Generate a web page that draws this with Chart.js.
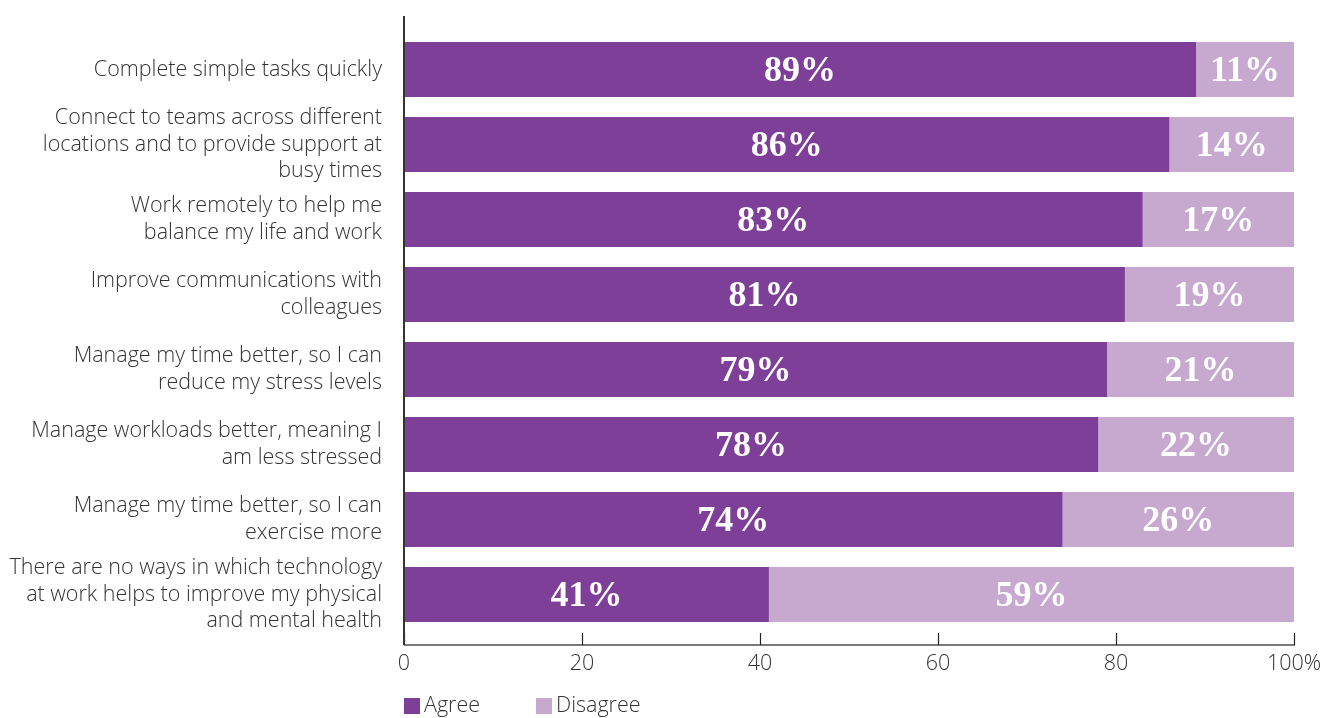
<!DOCTYPE html>
<html>
<head>
<meta charset="utf-8">
<script src="https://cdn.jsdelivr.net/npm/chart.js@4/dist/chart.umd.min.js"></script>
<style>
  html, body { margin: 0; padding: 0; background: #ffffff; }
  #wrap { width: 1335px; height: 718px; position: relative; }
</style>
</head>
<body>
<div id="wrap"><canvas id="chart"></canvas></div>
<script>
// Survey statements (one bar each), top to bottom
const categories = [
  "Complete simple tasks quickly",
  ["Connect to teams across different", "locations and to provide support at", "busy times"],
  ["Work remotely to help me", "balance my life and work"],
  ["Improve communications with", "colleagues"],
  ["Manage my time better, so I can", "reduce my stress levels"],
  ["Manage workloads better, meaning I", "am less stressed"],
  ["Manage my time better, so I can", "exercise more"],
  ["There are no ways in which technology", "at work helps to improve my physical", "and mental health"]
];
const agree    = [89, 86, 83, 81, 79, 78, 74, 41];
const disagree = [11, 14, 17, 19, 21, 22, 26, 59];
const seriesNames = ["Agree", "Disagree"];
const xTicks = [0, 20, 40, 60, 80, 100];

const AGREE_COLOR = "#7d3f97";
const DISAGREE_COLOR = "#c7a8cf";
const TEXT_COLOR = "#333333";
const LABEL_FONT = "'Open Sans', 'Noto Sans', sans-serif";

// Percentages written inside each bar segment
const barValueLabels = {
  id: "barValueLabels",
  afterDatasetsDraw(chart) {
    const ctx = chart.ctx;
    ctx.save();
    ctx.fillStyle = "#ffffff";
    ctx.font = "bold 36px 'Liberation Serif', 'DejaVu Serif', serif";
    ctx.textAlign = "center";
    ctx.textBaseline = "middle";
    chart.data.datasets.forEach((ds, i) => {
      const meta = chart.getDatasetMeta(i);
      meta.data.forEach((bar, j) => {
        const p = bar.getProps(["x", "y", "base"], true);
        const cx = (p.x + p.base) / 2;
        ctx.fillText(ds.data[j] + "%", cx, p.y + 2);
      });
    });
    ctx.restore();
  }
};

// Axis lines with inward tick marks, plus a legend aligned to the plot's left edge
const axesAndLegend = {
  id: "axesAndLegend",
  afterDraw(chart) {
    const ctx = chart.ctx;
    const area = chart.chartArea;
    const xs = chart.scales.x;
    const axisY = area.bottom + 13;
    ctx.save();
    // x axis
    ctx.strokeStyle = "#7a7a7a";
    ctx.lineWidth = 2;
    ctx.beginPath();
    ctx.moveTo(area.left, axisY);
    ctx.lineTo(xs.getPixelForValue(100) + 1, axisY);
    ctx.stroke();
    // tick marks pointing up
    ctx.strokeStyle = "#222222";
    ctx.lineWidth = 1.2;
    xTicks.forEach(v => {
      const x = Math.round(xs.getPixelForValue(v)) + 0.5;
      ctx.beginPath();
      ctx.moveTo(x, axisY);
      ctx.lineTo(x, axisY - 12);
      ctx.stroke();
    });
    // y axis
    ctx.strokeStyle = "#333333";
    ctx.lineWidth = 2;
    ctx.beginPath();
    ctx.moveTo(area.left, area.top - 16);
    ctx.lineTo(area.left, axisY);
    ctx.stroke();

    // legend
    ctx.font = "300 21.5px " + LABEL_FONT;
    ctx.textBaseline = "middle";
    ctx.textAlign = "left";
    let x = area.left;
    const ly = 706;
    const colors = [AGREE_COLOR, DISAGREE_COLOR];
    seriesNames.forEach((name, i) => {
      ctx.fillStyle = colors[i];
      ctx.fillRect(x, ly - 8, 16, 16);
      ctx.fillStyle = TEXT_COLOR;
      ctx.fillText(name, x + 20, ly);
      x += 132;
    });
    ctx.restore();
  }
};

new Chart(document.getElementById("chart"), {
  type: "bar",
  data: {
    labels: categories,
    datasets: [
      { label: seriesNames[0], data: agree, backgroundColor: AGREE_COLOR, borderWidth: 0 },
      { label: seriesNames[1], data: disagree, backgroundColor: DISAGREE_COLOR, borderWidth: 0 }
    ]
  },
  options: {
    indexAxis: "y",
    responsive: true,
    maintainAspectRatio: false,
    animation: false,
    events: [],
    layout: { padding: { top: 32, right: 41, left: 0, bottom: 0 } },
    datasets: { bar: { categoryPercentage: 1, barPercentage: 0.733 } },
    plugins: {
      legend: { display: false },
      tooltip: { enabled: false }
    },
    scales: {
      x: {
        stacked: true,
        min: 0,
        max: 100,
        afterBuildTicks: s => { s.ticks = xTicks.map(v => ({ value: v })); },
        afterFit: s => { s.height = 86; s.paddingLeft = 0; s.paddingRight = 0; },
        grid: { display: false, drawTicks: false },
        border: { display: false },
        ticks: {
          padding: 19,
          maxRotation: 0,
          color: TEXT_COLOR,
          font: { family: LABEL_FONT, size: 21.5, weight: 300 },
          callback: v => (v === 100 ? "100%" : String(v))
        }
      },
      y: {
        stacked: true,
        afterFit: s => { s.width = 404; s.paddingTop = 0; s.paddingBottom = 0; },
        grid: { display: false, drawTicks: false },
        border: { display: false },
        ticks: {
          autoSkip: false,
          padding: 22,
          color: TEXT_COLOR,
          font: { family: LABEL_FONT, size: 21.5, weight: 300, lineHeight: 1.23 }
        }
      }
    }
  },
  plugins: [barValueLabels, axesAndLegend]
});
</script>
</body>
</html>
